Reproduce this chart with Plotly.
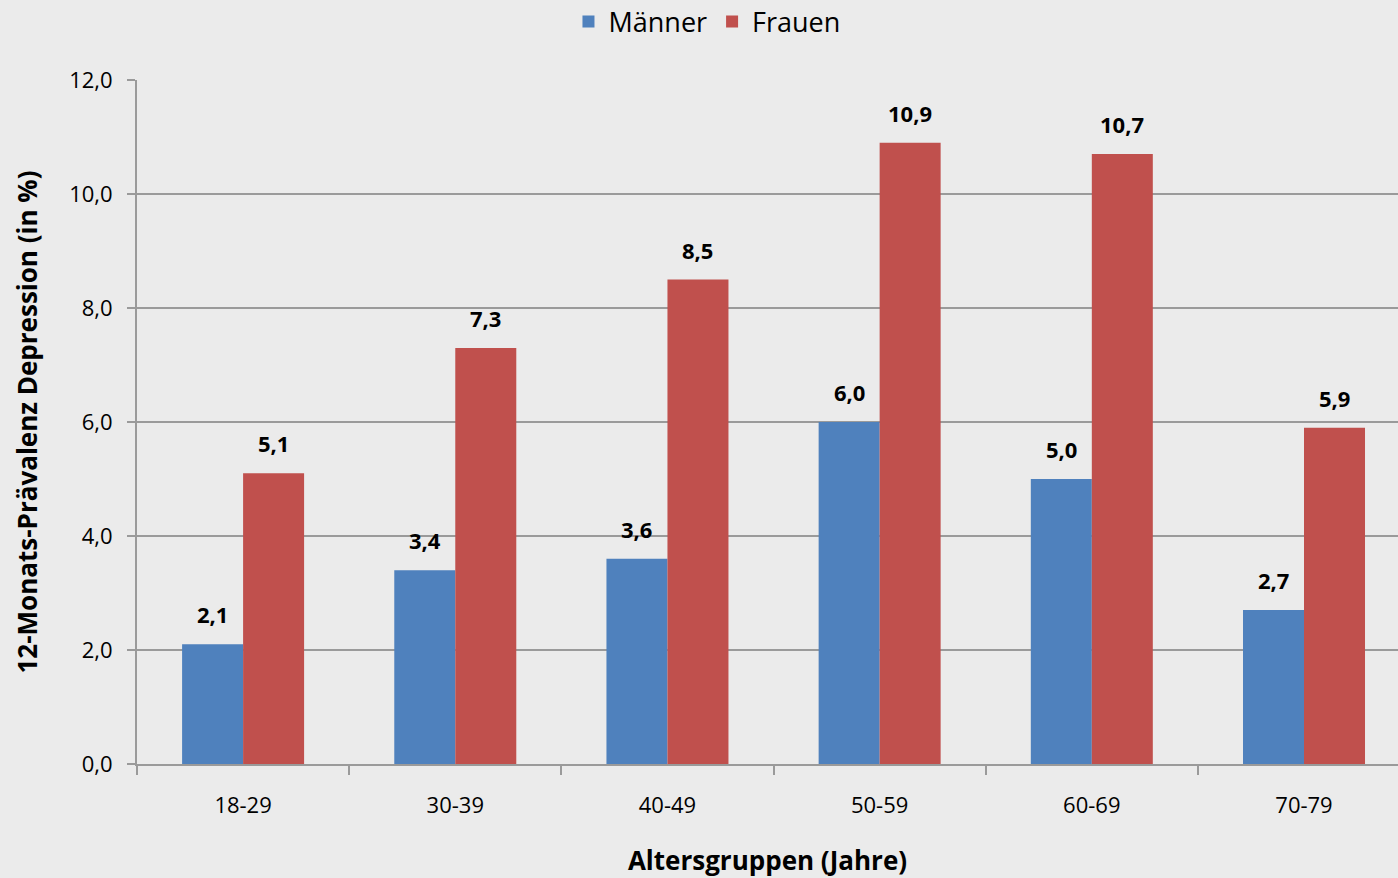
import plotly.graph_objects as go

categories = ["18-29", "30-39", "40-49", "50-59", "60-69", "70-79"]
maenner = [2.1, 3.4, 3.6, 6.0, 5.0, 2.7]
frauen = [5.1, 7.3, 8.5, 10.9, 10.7, 5.9]
y_ticks = [0, 2, 4, 6, 8, 10, 12]

BG = "#ebebeb"
BLUE = "#4f81bd"
RED = "#c0504d"
GRID = "#9a9a9a"
FONT = "Open Sans"

fig = go.Figure()
fig.add_trace(go.Bar(name="Männer", x=categories, y=maenner, marker_color=BLUE,
                     marker_line_width=0))
fig.add_trace(go.Bar(name="Frauen", x=categories, y=frauen, marker_color=RED,
                     marker_line_width=0))

for i, (m, f) in enumerate(zip(maenner, frauen)):
    for val, shift in ((m, -30.5), (f, 30.5)):
        fig.add_annotation(x=categories[i], y=val, xref="x", yref="y",
                           text="<b>" + f"{val:.1f}".replace(".", ",") + "</b>",
                           showarrow=False, xshift=shift, yshift=13,
                           yanchor="bottom",
                           font=dict(family=FONT, size=22, color="black"))

fig.update_layout(
    width=1398, height=878,
    paper_bgcolor=BG, plot_bgcolor=BG,
    margin=dict(l=137, r=0, t=80, b=114),
    barmode="group", bargap=0.425, bargroupgap=0,
    separators=",.",
    font=dict(family=FONT, color="black"),
    legend=dict(orientation="h", x=0.452, xref="paper", xanchor="center",
                y=0.975, yref="container", yanchor="middle",
                font=dict(size=27, family=FONT), bgcolor="rgba(0,0,0,0)",
                itemwidth=30, traceorder="normal"),
    showlegend=True,
)
fig.update_xaxes(
    type="category", range=[-0.5, 5.443],
    showline=True, linecolor=GRID, linewidth=2,
    ticks="outside", tickson="boundaries", ticklen=9, tickcolor=GRID, tickwidth=2,
    tickfont=dict(size=22, family=FONT), ticklabelstandoff=21,
    showgrid=False,
    title=dict(text="<b>Altersgruppen (Jahre)</b>", font=dict(size=26, family=FONT), standoff=34),
)
fig.update_yaxes(
    range=[0, 12], tickvals=y_ticks, tickformat=".1f",
    showline=True, linecolor=GRID, linewidth=2,
    ticks="outside", ticklen=8, tickcolor=GRID, tickwidth=2,
    tickfont=dict(size=22, family=FONT), ticklabelstandoff=10,
    showgrid=True, gridcolor=GRID, gridwidth=2,
    zeroline=False,
    title=dict(text="<b>12-Monats-Prävalenz Depression (in %)</b>", font=dict(size=26, family=FONT), standoff=24),
)

fig.write_html("out.html",
               config={"displayModeBar": False},
               post_script="document.body.style.margin='0';document.body.style.background='#ebebeb';")
